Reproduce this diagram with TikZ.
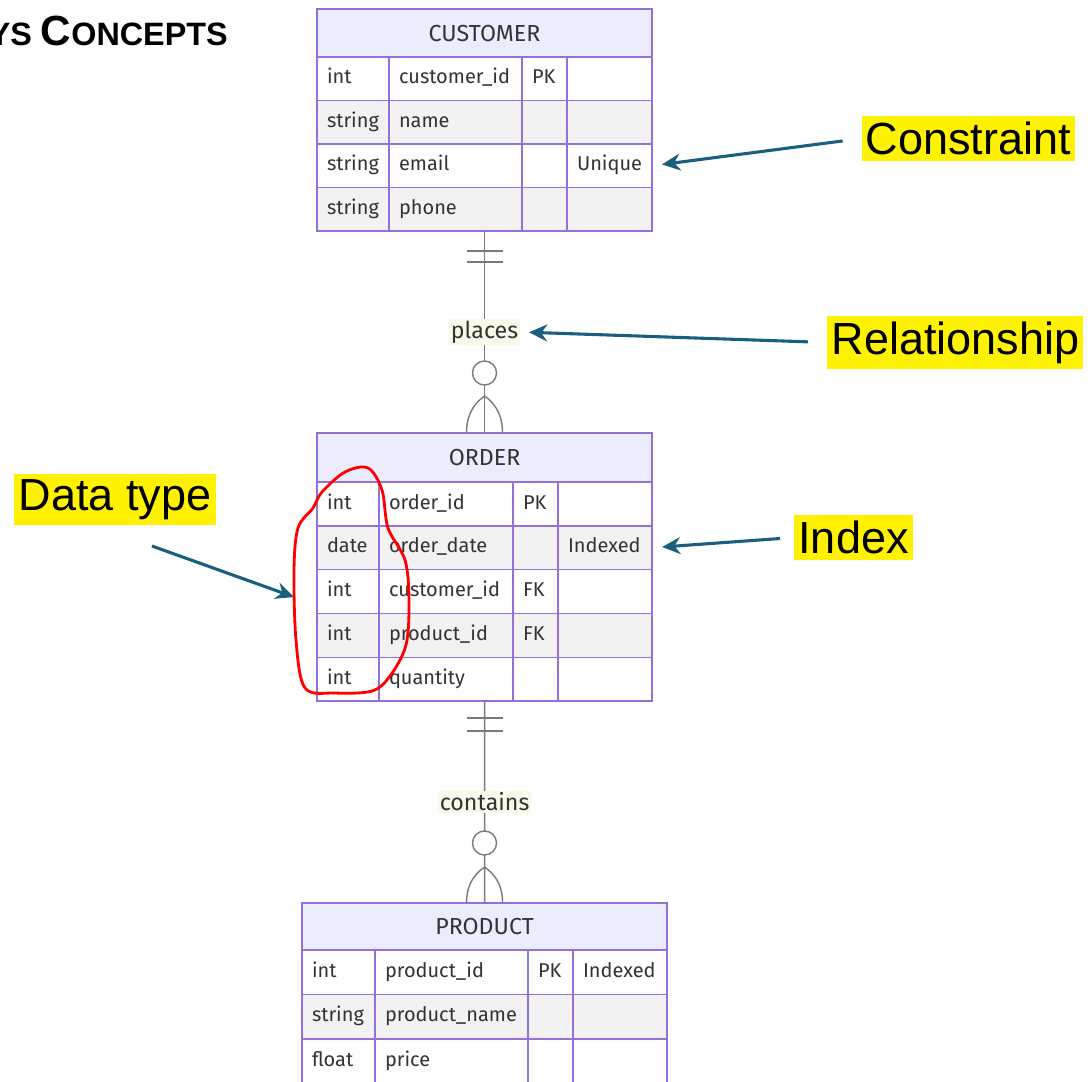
\documentclass[tikz,border=0pt]{standalone}
\usepackage{fontspec}
\setmainfont{Fira Sans}
\newfontfamily\calloutfont{Liberation Sans}
\newfontfamily\titlefont{Liberation Sans}
\usetikzlibrary{positioning,calc,arrows.meta}

\definecolor{tblborder}{HTML}{9370DB}
\definecolor{tblhead}{HTML}{ECECFF}
\definecolor{rowgrey}{HTML}{F2F2F2}
\definecolor{tbltext}{HTML}{333333}
\definecolor{relgrey}{HTML}{7A7A7A}
\definecolor{labelbg}{HTML}{F8FAE8}
\definecolor{pointblue}{HTML}{1B5F7E}

\begin{document}
\begin{tikzpicture}[x=0.025cm,y=-0.025cm,
    headbox/.style={rectangle, draw=tblborder, fill=tblhead, line width=1pt, outer sep=0pt,
      anchor=north west, text=tbltext, font=\fontsize{16.5}{18}\selectfont},
    cell/.style={rectangle, draw=tblborder, line width=1pt, outer sep=0pt, inner xsep=0.25cm,
      anchor=north west, align=left, text=tbltext, text height=0.36cm, text depth=0.1cm,
      font=\fontsize{14.2}{16}\selectfont},
    relline/.style={draw=relgrey, line width=1pt},
    rellabel/.style={fill=labelbg, text=tbltext, inner sep=1.5pt, font=\fontsize{16.5}{18}\selectfont},
    callout/.style={fill=yellow, inner xsep=3pt, inner ysep=4pt, font=\calloutfont\fontsize{32}{36}\selectfont},
    pointer/.style={draw=pointblue, line width=2.2pt, -{Stealth[length=13pt,width=12pt]}},
    redloop/.style={draw=red, line width=2pt, line join=round}]
    \useasboundingbox (0,0) rectangle (1091,1081);
    \begin{scope}
    \clip (0,0) rectangle (1091,1081);

        % Title (cut off at the left edge)
        \node[anchor=base east, inner sep=0pt, font=\titlefont\bfseries] (title) at (228,45)
          {{\fontsize{30}{32}\selectfont K}{\fontsize{23}{26}\selectfont EYS }{\fontsize{30}{32}\selectfont C}{\fontsize{23}{26}\selectfont ONCEPTS}};

        % CUSTOMER table
        \node[headbox, minimum width=8.375cm, minimum height=1.2cm] (customer) at (317,9) {CUSTOMER};
        \foreach \ty/\nm/\ky/\cm [count=\r] in {int/customer\_id/PK/{},string/name/{}/{},string/email/{}/Unique,string/phone/{}/{}} {
            \ifodd\r\relax \def\rowfill{white}\else \def\rowfill{rowgrey}\fi
            \node[cell, fill=\rowfill, text width=1.3cm, minimum height=1.0875cm] (cust-\r-1) at (317,{57+(\r-1)*43.5}) {\ty};
            \node[cell, fill=\rowfill, text width=2.825cm, minimum height=1.0875cm] (cust-\r-2) at (cust-\r-1.north east) {\nm};
            \node[cell, fill=\rowfill, text width=0.625cm, minimum height=1.0875cm] (cust-\r-3) at (cust-\r-2.north east) {\ky};
            \node[cell, fill=\rowfill, text width=1.625cm, minimum height=1.0875cm] (cust-\r-4) at (cust-\r-3.north east) {\cm};
        }

        % ORDER table
        \node[headbox, minimum width=8.375cm, minimum height=1.225cm] (order) at (317,433) {ORDER};
        \foreach \ty/\nm/\ky/\cm [count=\r] in {int/order\_id/PK/{},date/order\_date/{}/Indexed,int/customer\_id/FK/{},int/product\_id/FK/{},int/quantity/{}/{}} {
            \ifodd\r\relax \def\rowfill{white}\else \def\rowfill{rowgrey}\fi
            \node[cell, fill=\rowfill, text width=1.05cm, minimum height=1.095cm] (ord-\r-1) at (317,{482+(\r-1)*43.8}) {\ty};
            \node[cell, fill=\rowfill, text width=2.85cm, minimum height=1.095cm] (ord-\r-2) at (ord-\r-1.north east) {\nm};
            \node[cell, fill=\rowfill, text width=0.625cm, minimum height=1.095cm] (ord-\r-3) at (ord-\r-2.north east) {\ky};
            \node[cell, fill=\rowfill, text width=1.85cm, minimum height=1.095cm] (ord-\r-4) at (ord-\r-3.north east) {\cm};
        }

        % PRODUCT table
        \node[headbox, minimum width=9.125cm, minimum height=1.175cm] (product) at (302,903) {PRODUCT};
        \foreach \ty/\nm/\ky/\cm [count=\r] in {int/product\_id/PK/Indexed,string/product\_name/{}/{},float/price/{}/{}} {
            \ifodd\r\relax \def\rowfill{white}\else \def\rowfill{rowgrey}\fi
            \node[cell, fill=\rowfill, text width=1.325cm, minimum height=1.1125cm] (prod-\r-1) at (302,{950+(\r-1)*44.5}) {\ty};
            \node[cell, fill=\rowfill, text width=3.325cm, minimum height=1.1125cm] (prod-\r-2) at (prod-\r-1.north east) {\nm};
            \node[cell, fill=\rowfill, text width=0.625cm, minimum height=1.1125cm] (prod-\r-3) at (prod-\r-2.north east) {\ky};
            \node[cell, fill=\rowfill, text width=1.85cm, minimum height=1.1125cm] (prod-\r-4) at (prod-\r-3.north east) {\cm};
        }

        % Relationships
        \draw[relline] (cust-4-1.south -| customer) coordinate (cust-s) -- node[rellabel] (places) {places} (order.north);
        \draw[relline] ($(cust-s)+(-18,20)$) -- ($(cust-s)+(18,20)$);
        \draw[relline] ($(cust-s)+(-18,31)$) -- ($(cust-s)+(18,31)$);
        \draw[relline, fill=white] ($(order.north)+(0,-60)$) circle (0.3cm);
        \draw[relline] ($(order.north)+(0,-37)$) .. controls ($(order.north)+(-14,-27)$) and ($(order.north)+(-18,-14)$) .. ($(order.north)+(-18,0)$);
        \draw[relline] ($(order.north)+(0,-37)$) .. controls ($(order.north)+(14,-27)$) and ($(order.north)+(18,-14)$) .. ($(order.north)+(18,0)$);

        \draw[relline] (ord-5-1.south -| order) coordinate (ord-s) -- node[rellabel] (contains) {contains} (product.north);
        \draw[relline] ($(ord-s)+(-18,17)$) -- ($(ord-s)+(18,17)$);
        \draw[relline] ($(ord-s)+(-18,30)$) -- ($(ord-s)+(18,30)$);
        \draw[relline, fill=white] ($(product.north)+(0,-60)$) circle (0.3cm);
        \draw[relline] ($(product.north)+(0,-36)$) .. controls ($(product.north)+(-14,-26)$) and ($(product.north)+(-18,-14)$) .. ($(product.north)+(-18,0)$);
        \draw[relline] ($(product.north)+(0,-36)$) .. controls ($(product.north)+(14,-26)$) and ($(product.north)+(18,-14)$) .. ($(product.north)+(18,0)$);

        % Red loop round the type column
        \draw[redloop] plot[smooth cycle, tension=0.55] coordinates {(313,508) (298,528) (294,570) (296,640) (305,688) (335,693) (372,691) (390,676) (406,645) (409,600) (405,560) (388,528) (382,490) (368,468) (345,472) (322,492)};
        \coordinate (loop-w) at (294,597);

        % Callouts
        \node[callout] (constraint) at (968.5,138.5) {Constraint};
        \node[callout, anchor=west] (relationship) at (827,342.5) {Relationship};
        \node[callout] (index) at (853.5,537.5) {Index};
        \node[callout] (datatype) at (115,499.5) {Data type};
        \coordinate (dt-tail) at (152,546);

        % Arrows
        \draw[pointer, shorten <=0.475cm, shorten >=0.25cm] (constraint.west) -- (cust-3-4.east);
        \draw[pointer, shorten <=0.475cm, shorten >=0.2cm] (relationship.west) -- (places.east);
        \draw[pointer, shorten <=0.35cm, shorten >=0.25cm] (index.west) -- (ord-2-4.east);
        \draw[pointer] (dt-tail) -- (loop-w);
    \end{scope}
\end{tikzpicture}
\end{document}
